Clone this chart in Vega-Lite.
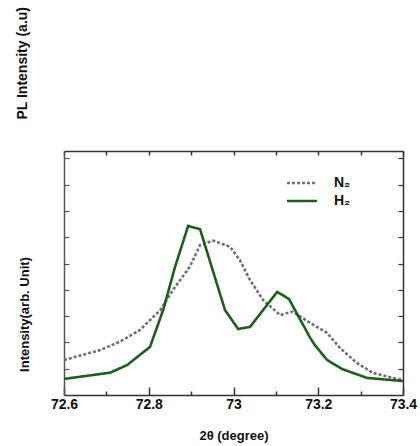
{
  "$schema": "https://vega.github.io/schema/vega-lite/v6.json",
  "autosize": {"type": "none"},
  "width": 339,
  "height": 244,
  "padding": {"left": 64, "top": 151, "right": 17, "bottom": 51},
  "background": "white",
  "title": {
    "text": "PL Intensity (a.u)",
    "orient": "left",
    "anchor": "end",
    "frame": "group",
    "font": "Liberation Sans",
    "fontSize": 14,
    "fontWeight": "bold",
    "color": "#111111",
    "dx": 144,
    "dy": 16
  },
  "data": {
    "values": [
      {"gas": "N₂", "theta": 72.6, "intensity": 1.33},
      {"gas": "N₂", "theta": 72.685, "intensity": 1.71},
      {"gas": "N₂", "theta": 72.732, "intensity": 2.03},
      {"gas": "N₂", "theta": 72.779, "intensity": 2.47},
      {"gas": "N₂", "theta": 72.827, "intensity": 3.23},
      {"gas": "N₂", "theta": 72.857, "intensity": 3.99},
      {"gas": "N₂", "theta": 72.897, "intensity": 4.88},
      {"gas": "N₂", "theta": 72.921, "intensity": 5.7},
      {"gas": "N₂", "theta": 72.952, "intensity": 5.87},
      {"gas": "N₂", "theta": 72.992, "intensity": 5.64},
      {"gas": "N₂", "theta": 73.015, "intensity": 5.13},
      {"gas": "N₂", "theta": 73.039, "intensity": 4.37},
      {"gas": "N₂", "theta": 73.07, "intensity": 3.61},
      {"gas": "N₂", "theta": 73.11, "intensity": 3.04},
      {"gas": "N₂", "theta": 73.14, "intensity": 3.17},
      {"gas": "N₂", "theta": 73.181, "intensity": 2.74},
      {"gas": "N₂", "theta": 73.221, "intensity": 2.36},
      {"gas": "N₂", "theta": 73.251, "intensity": 1.79},
      {"gas": "N₂", "theta": 73.291, "intensity": 1.22},
      {"gas": "N₂", "theta": 73.329, "intensity": 0.84},
      {"gas": "N₂", "theta": 73.376, "intensity": 0.65},
      {"gas": "N₂", "theta": 73.4, "intensity": 0.57},
      {"gas": "H₂", "theta": 72.6, "intensity": 0.61},
      {"gas": "H₂", "theta": 72.709, "intensity": 0.85},
      {"gas": "H₂", "theta": 72.749, "intensity": 1.14},
      {"gas": "H₂", "theta": 72.803, "intensity": 1.83},
      {"gas": "H₂", "theta": 72.834, "intensity": 3.23},
      {"gas": "H₂", "theta": 72.862, "intensity": 4.87},
      {"gas": "H₂", "theta": 72.893, "intensity": 6.43},
      {"gas": "H₂", "theta": 72.921, "intensity": 6.31},
      {"gas": "H₂", "theta": 72.98, "intensity": 3.23},
      {"gas": "H₂", "theta": 73.011, "intensity": 2.51},
      {"gas": "H₂", "theta": 73.039, "intensity": 2.59},
      {"gas": "H₂", "theta": 73.103, "intensity": 3.92},
      {"gas": "H₂", "theta": 73.131, "intensity": 3.65},
      {"gas": "H₂", "theta": 73.181, "intensity": 2.17},
      {"gas": "H₂", "theta": 73.192, "intensity": 1.9},
      {"gas": "H₂", "theta": 73.221, "intensity": 1.33},
      {"gas": "H₂", "theta": 73.256, "intensity": 0.99},
      {"gas": "H₂", "theta": 73.315, "intensity": 0.65},
      {"gas": "H₂", "theta": 73.4, "intensity": 0.53}
    ]
  },
  "layer": [
    {
      "mark": {"type": "line", "strokeWidth": 2.6, "clip": true},
      "encoding": {
        "x": {
          "field": "theta",
          "type": "quantitative",
          "scale": {"domain": [72.6, 73.4], "nice": false, "zero": false},
          "axis": {
            "orient": "bottom",
            "title": "2θ (degree)",
            "titleFont": "Liberation Sans",
            "titleFontSize": 13,
            "titleFontWeight": "bold",
            "titleColor": "#111111",
            "titleBaseline": "alphabetic",
            "titleY": 44,
            "values": [72.6, 72.7, 72.8, 72.9, 73.0, 73.1, 73.2, 73.3, 73.4],
            "labelExpr": "abs(round(datum.value*10) % 2) == 1 ? '' : '' + round(datum.value*10)/10",
            "labelFont": "Liberation Sans",
            "labelFontSize": 14,
            "labelFontWeight": "bold",
            "labelColor": "#111111",
            "labelPadding": 10,
            "labelFlush": false,
            "labelOverlap": false,
            "domainColor": "#333333",
            "domainWidth": 1.5,
            "tickColor": "#333333",
            "tickWidth": 1.5,
            "tickSize": {"condition": {"test": "abs(round(datum.value*10) % 2) == 1", "value": -4}, "value": -8},
            "grid": false
          }
        },
        "y": {
          "field": "intensity",
          "type": "quantitative",
          "scale": {"domain": [0, 9.28], "nice": false},
          "axis": {
            "orient": "left",
            "title": "Intensity(arb. Unit)",
            "titleFont": "Liberation Sans",
            "titleFontSize": 13,
            "titleFontWeight": "bold",
            "titleColor": "#111111",
            "titleX": -40,
            "titleY": 163,
            "titleBaseline": "middle",
            "titleAlign": "center",
            "titleAngle": -90,
            "values": [1, 2, 3, 4, 5, 6, 7, 8, 9],
            "labels": false,
            "domainColor": "#555555",
            "domainWidth": 1.5,
            "tickColor": "#555555",
            "tickWidth": 1.2,
            "tickSize": -5,
            "grid": false
          }
        },
        "color": {
          "field": "gas",
          "type": "nominal",
          "scale": {"domain": ["N₂", "H₂"], "range": ["#707070", "#1d5e1d"]},
          "legend": {
            "orient": "none",
            "legendX": 229,
            "legendY": 23,
            "title": null,
            "symbolType": "M-2,0H2",
            "symbolSize": 225,
            "symbolStrokeWidth": 2.6,
            "labelOffset": 23,
            "labelFont": "Liberation Sans",
            "labelFontSize": 14,
            "labelFontWeight": "bold",
            "labelColor": "#111111",
            "rowPadding": 2
          }
        },
        "strokeDash": {
          "field": "gas",
          "type": "nominal",
          "scale": {"domain": ["N₂", "H₂"], "range": [[3, 2], [1, 0]]},
          "legend": {
            "orient": "none",
            "legendX": 229,
            "legendY": 23,
            "title": null,
            "symbolType": "M-2,0H2",
            "symbolSize": 225,
            "symbolStrokeWidth": 2.6,
            "labelOffset": 23,
            "labelFont": "Liberation Sans",
            "labelFontSize": 14,
            "labelFontWeight": "bold",
            "labelColor": "#111111",
            "rowPadding": 2
          }
        }
      }
    },
    {
      "mark": {"type": "line", "opacity": 0},
      "encoding": {
        "x": {
          "field": "theta",
          "type": "quantitative",
          "axis": {
            "orient": "top",
            "title": null,
            "labels": false,
            "values": [72.6, 72.7, 72.8, 72.9, 73.0, 73.1, 73.2, 73.3, 73.4],
            "domainColor": "#333333",
            "domainWidth": 1.5,
            "tickColor": "#333333",
            "tickWidth": 1.5,
            "tickSize": -4,
            "grid": false
          }
        },
        "y": {
          "field": "intensity",
          "type": "quantitative",
          "axis": {
            "orient": "right",
            "title": null,
            "labels": false,
            "values": [1, 2, 3, 4, 5, 6, 7, 8, 9],
            "domainColor": "#333333",
            "domainWidth": 1.5,
            "tickColor": "#333333",
            "tickWidth": 1.2,
            "tickSize": -5,
            "grid": false
          }
        }
      }
    }
  ],
  "resolve": {"axis": {"x": "independent", "y": "independent"}},
  "config": {"view": {"stroke": null}}
}
